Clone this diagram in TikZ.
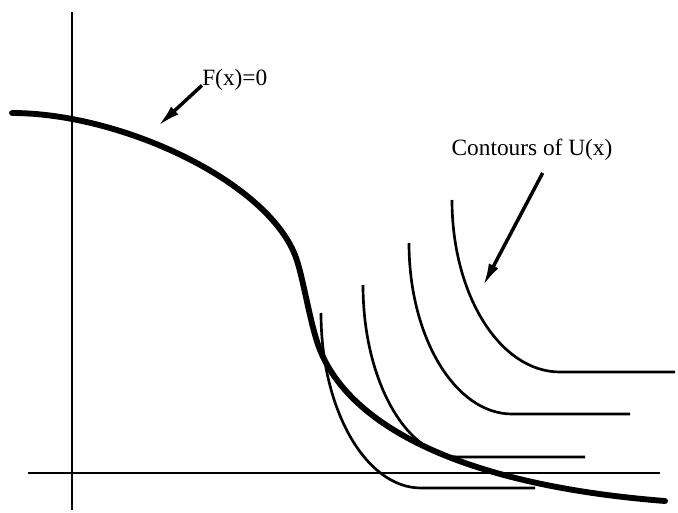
\documentclass[tikz,border=0pt]{standalone}
\usepackage{fontspec}
\setmainfont{Liberation Serif}
\usetikzlibrary{arrows.meta}

\begin{document}
\begin{tikzpicture}[x=0.75pt,y=-0.75pt,
  axisline/.style={line width=1.5pt},
  zerocurve/.style={line width=4.4pt,line cap=round},
  contour/.style={line width=2pt},
  pointer/.style={-{Latex[length=17pt,width=8pt]},line width=2.6pt},
  lbl/.style={font=\fontsize{17.5}{20}\selectfont,inner sep=0pt}]
\useasboundingbox (0,0) rectangle (678,513);

% axes
\draw[axisline] (72,12)--(72,510);
\draw[axisline] (28,473)--(660,473);

% F(x)=0
\draw[zerocurve] (12,113) .. controls (120,113) and (265,180) .. (295,255)
  .. controls (303,275) and (310,325) .. (320,350)
  .. controls (350,425) and (460,485) .. (665,501);

% contours of U
\draw[contour] (321,313) .. controls (321,410) and (366,488) .. (421,488) -- (535,488);
\draw[contour] (363,285) .. controls (363,380) and (406,457) .. (459,457) -- (585,457);
\draw[contour] (409,243) .. controls (409,337) and (455,414) .. (512,414) -- (630,414);
\draw[contour] (452,200) .. controls (452,295) and (500,372) .. (560,372) -- (675,372);

% labels
\node[lbl,anchor=west] (flabel) at (202,80) {F(x)=0};
\node[lbl] (ulabel) at (532,150) {Contours of U(x)};
\coordinate (fhead) at (158,126);
\coordinate (uhead) at (483,286);
\draw[pointer] ([yshift=-4pt]flabel.west) -- (fhead);
\draw[pointer] ([xshift=8pt,yshift=-9pt]ulabel.south) -- (uhead);
\end{tikzpicture}
\end{document}
